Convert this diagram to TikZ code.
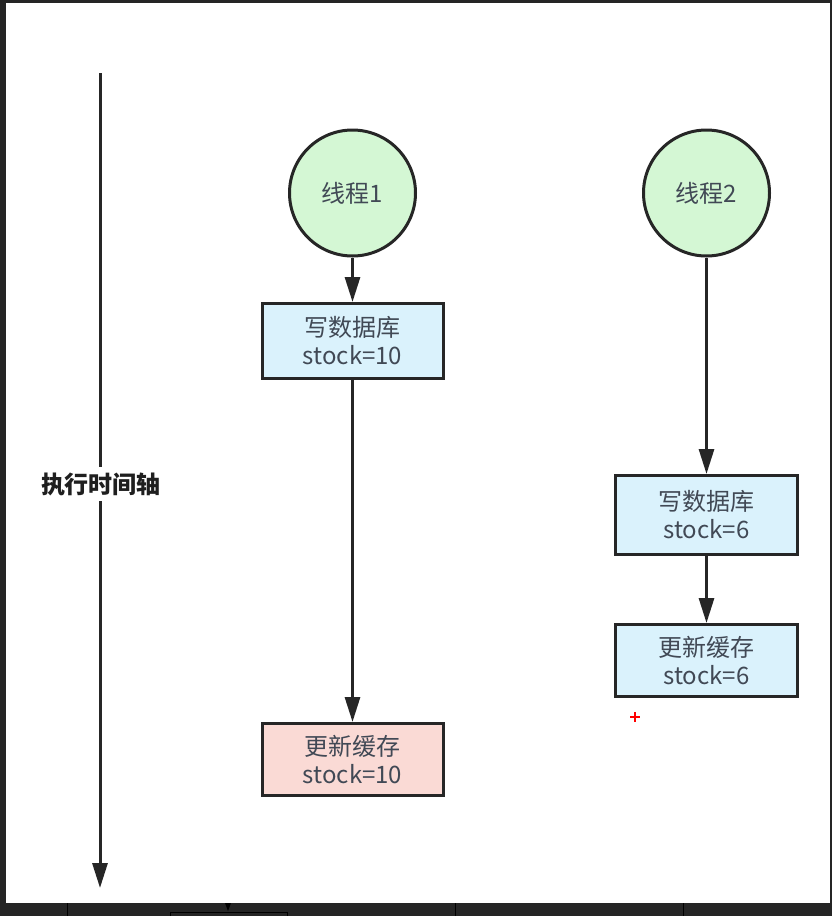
\documentclass[tikz,border=0pt]{standalone}
\usepackage{fontspec}
\setmainfont{Noto Sans CJK SC}
\usetikzlibrary{arrows.meta}
\definecolor{framec}{HTML}{252525}
\definecolor{greenfill}{HTML}{D4F7D4}
\definecolor{bluefill}{HTML}{DAF2FC}
\definecolor{pinkfill}{HTML}{FADAD5}
\definecolor{edgec}{HTML}{262626}
\definecolor{txt}{HTML}{414955}
\begin{document}
\begin{tikzpicture}[x=1pt,y=-1pt,
  thread/.style={circle, draw=edgec, line width=3pt, fill=greenfill, minimum size=126pt, inner sep=0pt, text=txt, font=\fontsize{24}{28}\selectfont},
  stepbox/.style={rectangle, draw=edgec, line width=3pt, minimum width=181pt, inner sep=0pt, align=center, text=txt, font=\fontsize{24}{28}\selectfont},
  arr/.style={draw=edgec, line width=3pt, -{Triangle[length=25pt,width=15pt]}},
  bgline/.style={draw=black, line width=1pt}]
\fill[framec] (0,0) rectangle (832,916);
\fill[white] (6,3) rectangle (830,903);
\useasboundingbox (0,0) rectangle (832,916);
% faint lines of the next diagram in the dark strip
\draw[bgline] (67,903) -- (67,916);
\draw[bgline] (455,903) -- (455,916);
\draw[bgline] (683,903) -- (683,916);
\draw[bgline] (170,916) -- (170,912) -- (287,912) -- (287,916);
\fill[black] (225,903) -- (231,903) -- (228,911) -- cycle;
% time axis
\coordinate (axtop) at (100,73);
\coordinate (axbot) at (100,888);
\draw[arr] (axtop) -- (axbot);
\node[fill=white, inner sep=5pt, text=black!88, font=\fontsize{24}{28}\selectfont\bfseries] (axl) at (101,484) {执行时间轴};
% thread 1
\node[thread] (t1) at (352.5,193) {线程1};
\node[stepbox, minimum height=75pt, fill=bluefill] (b1) at (352.5,341) {写数据库\\stock=10};
\node[stepbox, minimum height=72pt, fill=pinkfill] (b3) at (352.5,759.5) {更新缓存\\stock=10};
% thread 2
\node[thread] (t2) at (706.5,193) {线程2};
\node[stepbox, minimum height=79pt, minimum width=182pt, fill=bluefill] (b2) at (706.5,515) {写数据库\\stock=6};
\node[stepbox, minimum height=72pt, minimum width=182pt, fill=bluefill] (b4) at (706.5,660.5) {更新缓存\\stock=6};
% connectors
\draw[arr] (t1) -- (b1);
\draw[arr] (b1) -- (b3);
\draw[arr] (t2) -- (b2);
\draw[arr] (b2) -- (b4);
% red cursor mark
\draw[red, line width=1.6pt] (630,717) -- (640,717) (635,712) -- (635,722);
\end{tikzpicture}
\end{document}
